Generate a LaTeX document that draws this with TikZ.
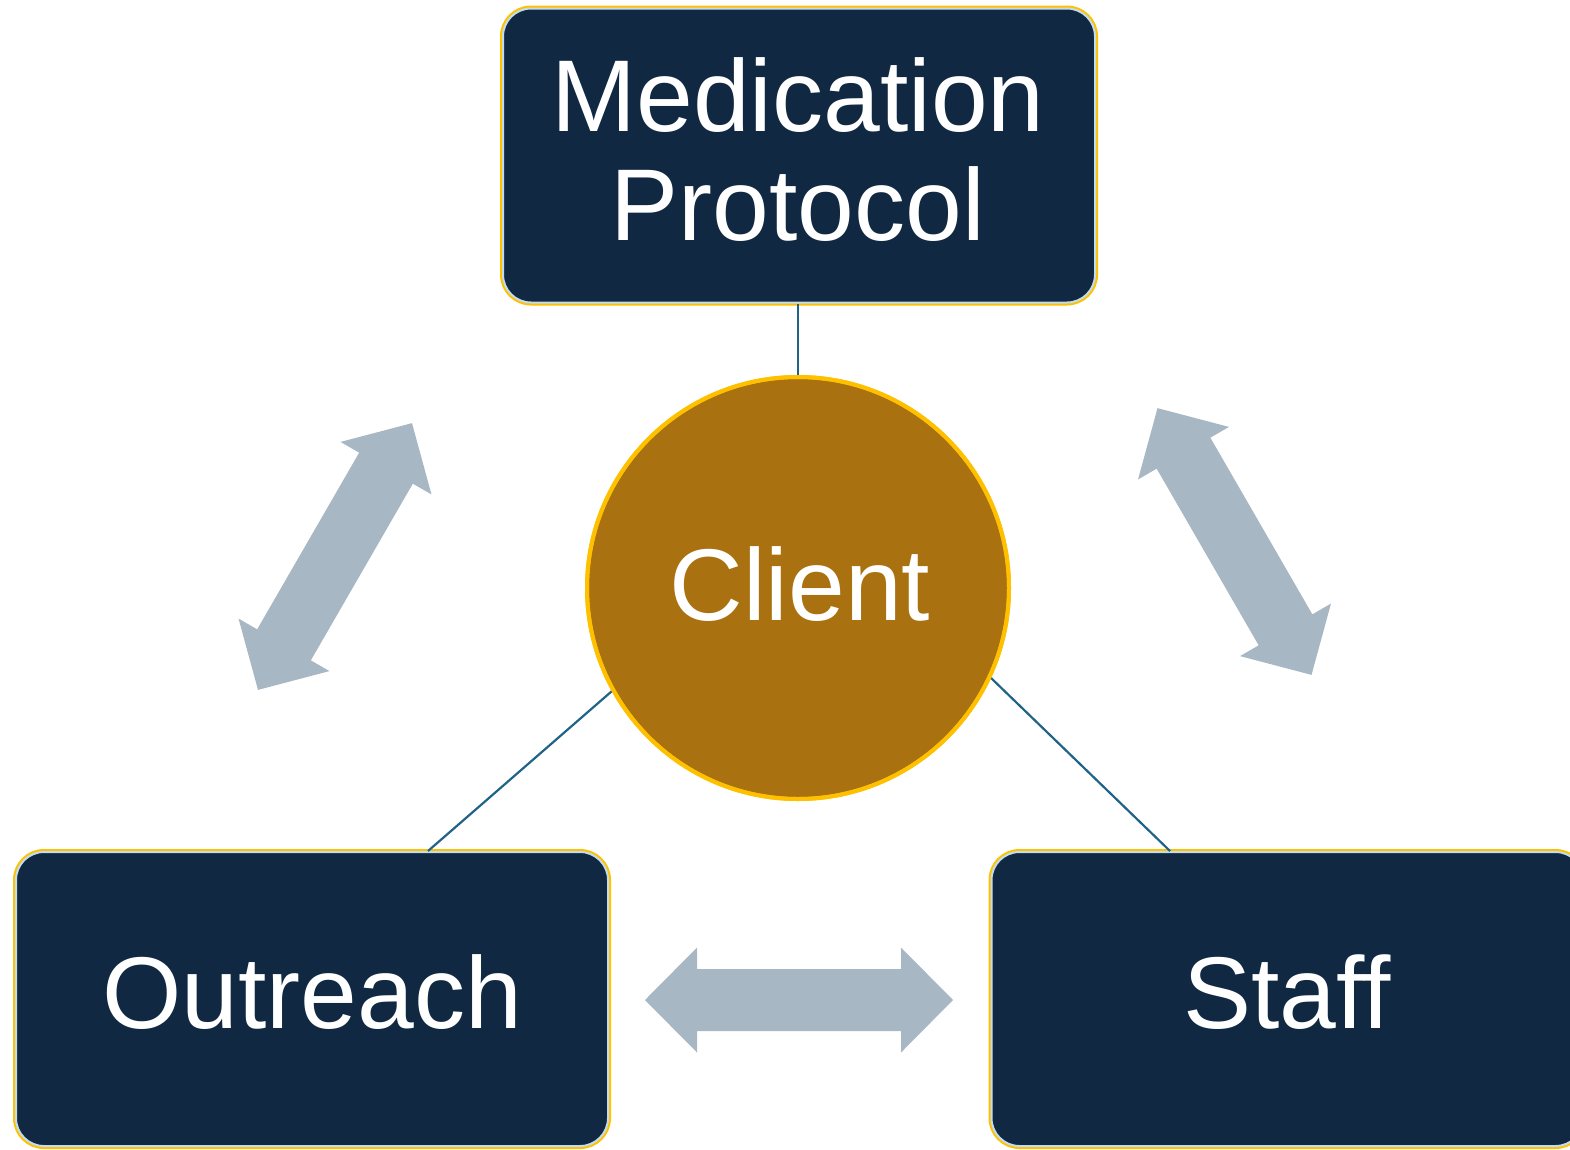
\documentclass[tikz,border=0pt]{standalone}
\usepackage{fontspec}
\setmainfont{Liberation Sans}
\definecolor{navy}{HTML}{102842}
\definecolor{amber}{HTML}{A97110}
\definecolor{gold}{HTML}{FFC000}
\definecolor{paleblue}{HTML}{C3DCEB}
\definecolor{tealline}{HTML}{1F6388}
\definecolor{arrowgray}{HTML}{A7B7C3}
\tikzset{
  box/.style={rectangle, rounded corners=28pt, minimum width=592pt, minimum height=294pt,
    inner sep=0pt, fill=navy, draw=paleblue, line width=2pt,
    preaction={draw=gold, line width=6pt}},
  hub/.style={circle, minimum size=422pt, inner sep=0pt, fill=amber, draw=gold, line width=4pt},
  lbl/.style={text=white, font=\fontsize{102}{109}\selectfont, inner sep=0pt, anchor=base},
  link/.style={draw=tealline, line width=2.2pt},
  dblarrow/.pic={\fill[arrowgray] (-154,0) -- (-102,52.5) -- (-102,31) -- (102,31) -- (102,52.5)
      -- (154,0) -- (102,-52.5) -- (102,-31) -- (-102,-31) -- (-102,-52.5) -- cycle;}
}
\begin{document}
\begin{tikzpicture}[x=1pt,y=-1pt]
\useasboundingbox (0,0) rectangle (1570,1149);
\clip (0,0) rectangle (1570,1149);
% boxes
\node[box] (med) at (799,155.5) {};
\node[box] (out) at (312,999) {};
\node[box] (staff) at (1287.5,999) {};
% hub
\coordinate (ox) at (428,0);
\coordinate (sx) at (1170,0);
\node[hub] (client) at (798,588) {};
% connectors
\draw[link] (client.north) -- (med.south -| client.north);
\draw[link] (client.209) -- (out.north -| ox);
\draw[link] (client.335) -- (staff.north -| sx);
\node[hub, fill=none] (clientring) at (798,588) {};
% labels
\node[lbl] (medt1) at (798,131) {Medication};
\node[lbl] (medt2) at (798,240) {Protocol};
\node[lbl] (clientt) at (800,620) {Client};
\node[lbl] (outt) at (312,1028) {Outreach};
\node[lbl] (stafft) at (1287,1028) {Staff};
% arrows
\pic[rotate=60] at (335,556.5) {dblarrow};
\pic[rotate=-60] at (1234.5,541.5) {dblarrow};
\pic at (799,1000) {dblarrow};
\end{tikzpicture}
\end{document}
